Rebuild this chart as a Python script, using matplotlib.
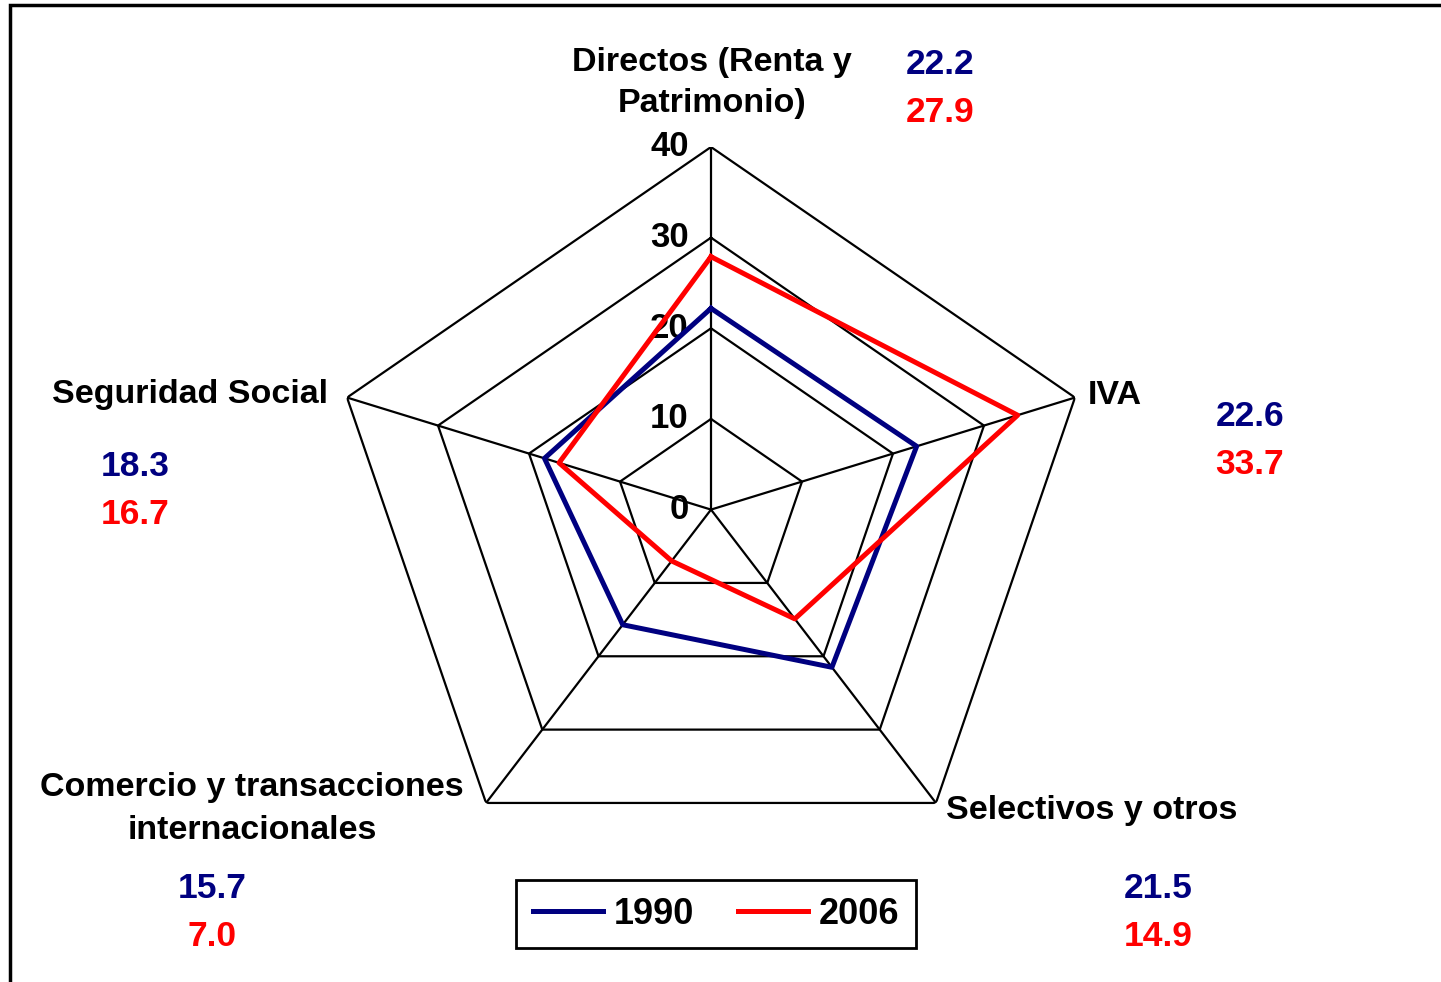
import numpy as np
import matplotlib
matplotlib.use("Agg")
import matplotlib.pyplot as plt
from matplotlib.patches import Rectangle

plt.rcParams['font.family'] = ['Liberation Sans', 'DejaVu Sans']
plt.rcParams['font.weight'] = 'bold'

categories = ["Directos (Renta y\nPatrimonio)", "IVA", "Selectivos y otros",
              "Comercio y transacciones\ninternacionales", "Seguridad Social"]
series_names = ["1990", "2006"]
values_1990 = [22.2, 22.6, 21.5, 15.7, 18.3]
values_2006 = [27.9, 33.7, 14.9, 7.0, 16.7]
ticks = [0, 10, 20, 30, 40]

NAVY = "#000080"
RED = "#FF0000"
FS_LAB = 24.5
FS_VAL = 25.5
FS_TICK = 25
FS_LEG = 26

fig = plt.figure(figsize=(14.41, 9.82), dpi=100)
W, H = 1441, 982

# outer frame
fig.patches.append(Rectangle((10 / W, -0.1), 1.2, (982 - 5) / H + 0.1, transform=fig.transFigure,
                             fill=False, edgecolor="black", linewidth=2.5, zorder=0))

cx, cy = 711, 509.6
Rx, Ry = 382.7, 362.6
ax = fig.add_axes([(cx - Rx) / W, (H - cy - Ry) / H, 2 * Rx / W, 2 * Ry / H], projection="polar")
ax.set_aspect("auto")
ax.set_theta_offset(np.pi / 2)
ax.set_theta_direction(-1)
ax.set_ylim(0, 40)
ax.grid(False)
ax.spines['polar'].set_visible(False)
ax.set_xticks([])
ax.set_yticks([])
ax.patch.set_alpha(0)

n = len(categories)
theta = np.arange(n) * 2 * np.pi / n
theta_c = np.append(theta, theta[0])

# grid pentagons and spokes
for t in ticks[1:]:
    ax.plot(theta_c, [t] * (n + 1), color="black", lw=1.6, zorder=1)
for th in theta:
    ax.plot([th, th], [0, ticks[-1]], color="black", lw=1.6, zorder=1)

# tick labels along top spoke
for t in ticks:
    ax.annotate(str(t), xy=(0, t), xytext=(-16, 0), textcoords="offset points",
                ha="right", va="center", fontsize=FS_TICK, fontweight="bold", zorder=0.5)

v90 = values_1990 + values_1990[:1]
v06 = values_2006 + values_2006[:1]
ax.plot(theta_c, v90, color=NAVY, lw=3.6, label=series_names[0], zorder=3)
ax.plot(theta_c, v06, color=RED, lw=3.6, label=series_names[1], zorder=4)

# category labels and value annotations (figure pixel positions)
def ftxt(x, y, s, color="black", ha="center", va="center", ls=1.25, fs=FS_LAB):
    fig.text(x / W, 1 - y / H, s, color=color, ha=ha, va=va, fontsize=fs,
             fontweight="bold", linespacing=ls)

ftxt(712, 83, categories[0], ls=1.45)
ftxt(1088, 395, categories[1], ha="left")
ftxt(946, 810, categories[2], ha="left")
ftxt(252, 809, categories[3], ls=1.5)
ftxt(190, 395, categories[4])

val_pos = [(940, 64), (1250, 416), (1158, 888), (212, 888), (135, 467)]
for (x, y), a, b in zip(val_pos, values_1990, values_2006):
    ftxt(x, y, f"{a:.1f}", color=NAVY, fs=FS_VAL)
    ftxt(x, y + 48, f"{b:.1f}", color=RED, fs=FS_VAL)

handles, labels = ax.get_legend_handles_labels()
leg = fig.legend(handles, labels, loc="center", bbox_to_anchor=(716 / W, 1 - 914 / H),
                 ncol=2, fontsize=FS_LEG, frameon=True, fancybox=False, edgecolor="black",
                 framealpha=1, handlelength=1.95, handletextpad=0.3, columnspacing=1.2,
                 borderpad=0.45, borderaxespad=0)
leg.get_frame().set_linewidth(2)
for t in leg.get_texts():
    t.set_fontweight("bold")

fig.savefig("out.png", dpi=100)
